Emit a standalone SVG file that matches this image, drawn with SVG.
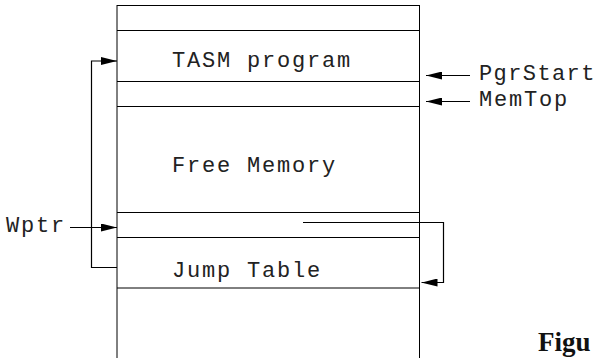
<svg xmlns="http://www.w3.org/2000/svg" width="599" height="358" viewBox="0 0 599 358">
  <style>
    .mono { font-family: "Liberation Mono", "Courier New", monospace; font-size: 22px; letter-spacing: 1.8px; fill: #222; }
    .tight { letter-spacing: 1.4px; }
    .cap { font-family: "Liberation Serif", "Times New Roman", serif; font-size: 27px; font-weight: bold; fill: #111; }
    .edge { stroke: #000; stroke-width: 1; fill: none; }
    .wire { stroke: #000; stroke-width: 1.2; fill: none; }
  </style>
  <defs>
    <marker id="head" markerUnits="userSpaceOnUse" markerWidth="16" markerHeight="8" refX="16" refY="4" orient="auto">
      <path d="M0,0 L16,4 L0,8 Z" fill="#000"/>
    </marker>
  </defs>

  <rect width="599" height="358" fill="#fff"/>

  <!-- memory map column -->
  <g id="memory-map">
    <line class="edge" x1="117" y1="5" x2="117" y2="358" stroke="#555" stroke-width="1.5"/>
    <line class="edge" x1="419.5" y1="5" x2="419.5" y2="358"/>
    <line class="edge" x1="117" y1="5.5" x2="419.5" y2="5.5"/>
  </g>

  <g id="tasm-program">
    <line class="edge" x1="117" y1="30.5" x2="419.5" y2="30.5"/>
    <line class="edge" x1="117" y1="81.5" x2="419.5" y2="81.5"/>
    <text class="mono" x="172" y="67">TASM program</text>
  </g>

  <g id="memtop-gap">
    <line class="edge" x1="117" y1="106.5" x2="419.5" y2="106.5"/>
  </g>

  <g id="free-memory">
    <text class="mono" x="172" y="172">Free Memory</text>
  </g>

  <g id="wptr-slot">
    <line class="edge" x1="117" y1="212.5" x2="419.5" y2="212.5"/>
    <line class="edge" x1="117" y1="237.5" x2="419.5" y2="237.5"/>
  </g>

  <g id="jump-table">
    <line class="edge" x1="117" y1="288" x2="419.5" y2="288" stroke="#555" stroke-width="1.5"/>
    <text class="mono" x="172" y="277">Jump Table</text>
  </g>

  <!-- pointer labels -->
  <g id="label-pgrstart">
    <text class="mono tight" x="479" y="80">PgrStart</text>
  </g>
  <g id="label-memtop">
    <text class="mono" x="479" y="106">MemTop</text>
  </g>
  <g id="label-wptr">
    <text class="mono" x="6" y="232">Wptr</text>
  </g>

  <g id="caption">
    <text class="cap" x="538" y="351">Figu</text>
  </g>

  <!-- connectors -->
  <g id="connectors">
    <line class="wire" x1="470" y1="75.5" x2="426" y2="75.5" marker-end="url(#head)"/>
    <line class="wire" x1="470" y1="101.5" x2="426" y2="101.5" marker-end="url(#head)"/>
    <line class="wire" x1="70" y1="227.5" x2="117" y2="227.5" marker-end="url(#head)"/>
    <polyline class="wire" points="117,267.5 91.5,267.5 91.5,61 117,61" marker-end="url(#head)"/>
    <polyline class="wire" points="303,222.5 443.5,222.5 443.5,282.5 421.5,282.5" marker-end="url(#head)"/>
  </g>
</svg>
